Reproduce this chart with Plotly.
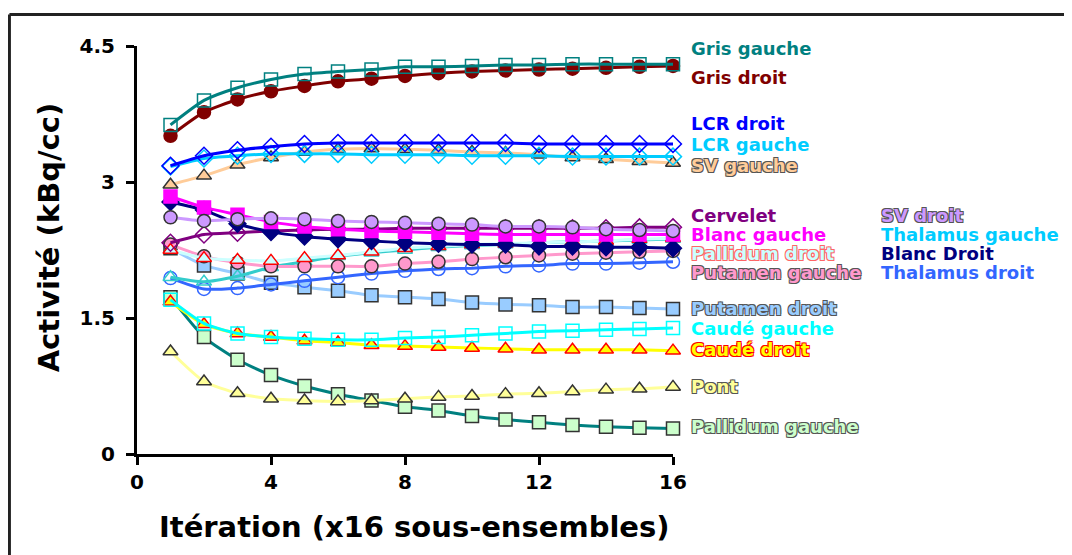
import plotly.graph_objects as go

# iterations (x16 sous-ensembles)
iterations = list(range(1, 17))

# activité (kBq/cc) par région
gris_gauche = [3.63, 3.90, 4.04, 4.13, 4.19, 4.22, 4.24, 4.27, 4.27, 4.28, 4.29, 4.29, 4.30, 4.30, 4.30, 4.30]
gris_droit = [3.51, 3.77, 3.91, 4.00, 4.06, 4.11, 4.14, 4.17, 4.20, 4.22, 4.23, 4.24, 4.25, 4.26, 4.27, 4.28]
lcr_droit = [3.18, 3.29, 3.35, 3.39, 3.42, 3.43, 3.43, 3.43, 3.43, 3.43, 3.43, 3.42, 3.42, 3.42, 3.42, 3.42]
lcr_gauche = [3.17, 3.26, 3.29, 3.31, 3.31, 3.31, 3.30, 3.30, 3.30, 3.29, 3.29, 3.29, 3.28, 3.28, 3.28, 3.28]
sv_gauche = [2.97, 3.07, 3.19, 3.27, 3.33, 3.36, 3.37, 3.36, 3.35, 3.33, 3.32, 3.30, 3.27, 3.25, 3.23, 3.21]
cervelet = [2.33, 2.42, 2.44, 2.46, 2.47, 2.48, 2.48, 2.49, 2.49, 2.49, 2.49, 2.49, 2.49, 2.49, 2.50, 2.50]
blanc_gauche = [2.84, 2.72, 2.64, 2.56, 2.51, 2.48, 2.46, 2.45, 2.44, 2.43, 2.42, 2.42, 2.42, 2.42, 2.42, 2.42]
blanc_droit = [2.78, 2.69, 2.54, 2.45, 2.40, 2.37, 2.35, 2.33, 2.32, 2.31, 2.31, 2.29, 2.29, 2.28, 2.28, 2.27]
sv_droit = [2.61, 2.57, 2.59, 2.60, 2.59, 2.57, 2.56, 2.55, 2.54, 2.53, 2.51, 2.51, 2.50, 2.48, 2.47, 2.46]
pallidum_droit = [2.25, 2.16, 2.14, 2.13, 2.16, 2.19, 2.23, 2.27, 2.29, 2.31, 2.32, 2.33, 2.34, 2.35, 2.37, 2.38]
thalamus_gauche = [1.95, 1.90, 1.96, 2.06, 2.12, 2.18, 2.22, 2.25, 2.28, 2.30, 2.31, 2.33, 2.34, 2.35, 2.36, 2.37]
putamen_gauche = [2.31, 2.18, 2.11, 2.07, 2.07, 2.07, 2.07, 2.10, 2.12, 2.15, 2.17, 2.19, 2.21, 2.22, 2.23, 2.24]
thalamus_droit = [1.94, 1.82, 1.83, 1.87, 1.91, 1.95, 1.99, 2.02, 2.04, 2.05, 2.07, 2.08, 2.10, 2.10, 2.11, 2.12]
putamen_droit = [2.27, 2.08, 1.99, 1.89, 1.84, 1.80, 1.75, 1.73, 1.71, 1.67, 1.65, 1.64, 1.62, 1.62, 1.61, 1.60]
caude_gauche = [1.70, 1.44, 1.33, 1.29, 1.27, 1.26, 1.26, 1.28, 1.29, 1.31, 1.33, 1.35, 1.36, 1.37, 1.38, 1.39]
caude_droit = [1.68, 1.43, 1.33, 1.29, 1.25, 1.23, 1.20, 1.19, 1.18, 1.17, 1.16, 1.15, 1.15, 1.15, 1.15, 1.14]
pont = [1.13, 0.80, 0.67, 0.61, 0.59, 0.58, 0.59, 0.61, 0.63, 0.64, 0.66, 0.67, 0.69, 0.71, 0.72, 0.74]
pallidum_gauche = [1.73, 1.29, 1.04, 0.87, 0.75, 0.66, 0.59, 0.52, 0.48, 0.42, 0.38, 0.35, 0.32, 0.30, 0.29, 0.28]

fig = go.Figure()

OUT = "#333333"

# (donnees, couleur ligne, symbole, remplissage, contour)
series = [
    (pallidum_gauche, "#008080", "square", "#CCFFCC", OUT),
    (pont, "#FFFF99", "triangle-up", "#FFFF99", OUT),
    (caude_droit, "#FFFF00", "triangle-up", "#FFFF00", "#FF0000"),
    (caude_gauche, "#00FFFF", "square-open", "#00FFFF", "#00FFFF"),
    (putamen_droit, "#99CCFF", "square", "#99CCFF", OUT),
    (thalamus_droit, "#3366FF", "circle-open", "#3366FF", "#3366FF"),
    (thalamus_gauche, "#33CCCC", "triangle-up-open", "#33CCCC", "#33CCCC"),
    (putamen_gauche, "#FF99CC", "circle", "#FF99CC", OUT),
    (pallidum_droit, "#CCFFFF", "triangle-up", "#CCFFFF", "#FF0000"),
    (cervelet, "#800080", "diamond-open", "#800080", "#800080"),
    (blanc_droit, "#000080", "diamond", "#000080", "#000080"),
    (blanc_gauche, "#FF00FF", "square", "#FF00FF", "#FF00FF"),
    (sv_droit, "#CC99FF", "circle", "#CC99FF", OUT),
    (sv_gauche, "#FFCC99", "triangle-up", "#FFCC99", OUT),
    (lcr_gauche, "#00CCFF", "diamond-open", "#00CCFF", "#00CCFF"),
    (lcr_droit, "#0000FF", "diamond-open", "#0000FF", "#0000FF"),
    (gris_droit, "#800000", "circle", "#800000", "#800000"),
    (gris_gauche, "#008080", "square-open", "#008080", "#008080"),
]

for vals, lc, sym, fill, edge in series:
    fig.add_trace(go.Scatter(
        x=iterations, y=vals, mode="lines+markers",
        line=dict(color=lc, width=3, shape="spline", smoothing=0.6),
        marker=dict(symbol=sym, size=13, color=fill,
                    line=dict(color=edge, width=1.5)),
        cliponaxis=False, showlegend=False,
    ))

# étiquettes à droite : texte, y (kBq/cc), colonne, couleur, contour
label_text = ["Gris gauche", "Gris droit", "LCR droit", "LCR gauche", "SV gauche",
              "Cervelet", "Blanc gauche", "Pallidum droit", "Putamen gauche",
              "Putamen droit", "Caudé gauche", "Caudé droit", "Pont", "Pallidum gauche",
              "SV droit", "Thalamus gauche", "Blanc Droit", "Thalamus droit"]
label_y = [4.47, 4.15, 3.65, 3.41, 3.18, 2.635, 2.42, 2.21, 2.00, 1.61, 1.38, 1.15,
           0.74, 0.30, 2.635, 2.42, 2.21, 2.00]
label_col = [0] * 14 + [1] * 4
label_color = ["#008080", "#800000", "#0000FF", "#00CCFF", "#FFCC99",
               "#800080", "#FF00FF", "#CCFFFF", "#FF99CC",
               "#99CCFF", "#00FFFF", "#FFFF00", "#FFFF99", "#CCFFCC",
               "#CC99FF", "#00CCFF", "#000080", "#3366FF"]
label_edge = [None, None, None, None, "#555555",
              None, None, "#FF6666", "#555555",
              "#555555", None, "#FF0000", "#555555", "#555555",
              "#555555", None, None, None]

for txt, yv, col, c, e in zip(label_text, label_y, label_col, label_color, label_edge):
    f = dict(family="DejaVu Sans", size=18, color=c, weight="bold")
    if e:
        f["shadow"] = (f"-1px -1px 0 {e}, 1px -1px 0 {e}, "
                       f"-1px 1px 0 {e}, 1px 1px 0 {e}")
    fig.add_annotation(x=[1.032, 1.387][col], y=yv, xref="paper", yref="y",
                       text=txt, showarrow=False, xanchor="left", yanchor="middle",
                       borderpad=0, font=f)

# titres des axes
fig.add_annotation(x=0.517, y=-0.179, xref="paper", yref="paper",
                   xanchor="center", yanchor="middle",
                   text="Itération (x16 sous-ensembles)", showarrow=False,
                   font=dict(family="DejaVu Sans", size=29, color="black", weight="bold"))
fig.add_annotation(x=-0.165, y=0.53, xref="paper", yref="paper", textangle=-90,
                   xanchor="center", yanchor="middle",
                   text="Activité (kBq/cc)", showarrow=False,
                   font=dict(family="DejaVu Sans", size=29, color="black", weight="bold"))

# cadre
fig.add_shape(type="line", xref="paper", yref="paper", x0=-0.238, x1=-0.238,
              y0=-0.5, y1=1.077, line=dict(color="#222222", width=3))
fig.add_shape(type="line", xref="paper", yref="paper", x0=-0.238, x1=2.0,
              y0=1.077, y1=1.077, line=dict(color="#222222", width=3))

axis_font = dict(family="DejaVu Sans", size=20, color="black", weight="bold")
fig.update_xaxes(range=[0, 16], tickmode="array", tickvals=[0, 4, 8, 12, 16],
                 showline=True, linecolor="black", linewidth=3, ticks="outside",
                 ticklen=8, tickwidth=3, tickcolor="black", showgrid=False,
                 zeroline=False, tickfont=axis_font)
fig.update_yaxes(range=[0, 4.5], tickmode="array", tickvals=[0, 1.5, 3, 4.5],
                 ticktext=["0", "1.5", "3", "4.5"], ticklabelstandoff=7,
                 showline=True, linecolor="black", linewidth=3, ticks="outside",
                 ticklen=8, tickwidth=3, tickcolor="black", showgrid=False,
                 zeroline=False, tickfont=axis_font)

# la page ajoute 8 px de marge : marges réduites d'autant
fig.update_layout(
    width=1072, height=555,
    margin=dict(l=129, r=407, t=38, b=109),
    plot_bgcolor="white", paper_bgcolor="white",
    showlegend=False,
)

fig.write_html("out.html")
